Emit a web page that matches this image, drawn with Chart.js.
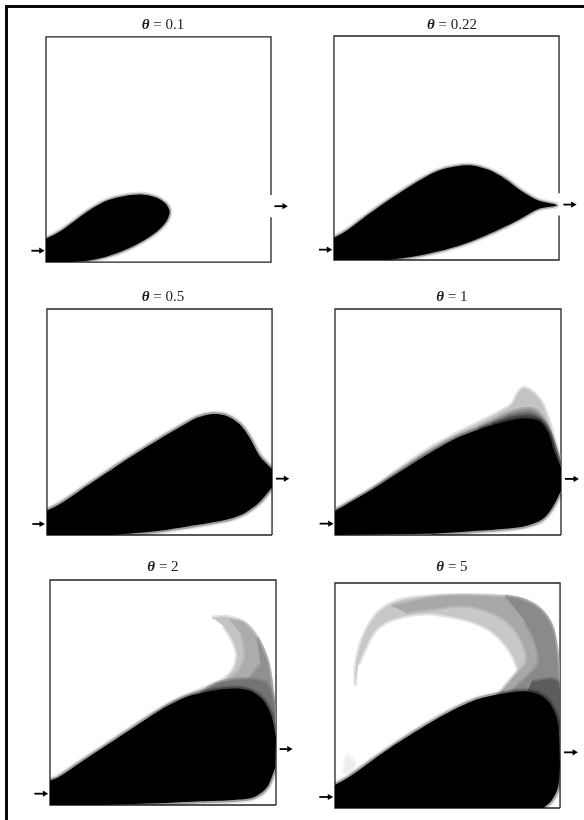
<!DOCTYPE html>
<html>
<head>
<meta charset="utf-8">
<script src="https://cdn.jsdelivr.net/npm/chart.js@4/dist/chart.umd.min.js"></script>
<style>
html,body{margin:0;padding:0;background:#fff;width:584px;height:820px;overflow:hidden}
#page{position:relative;width:584px;height:820px}
#frameTop{position:absolute;left:5px;top:5px;width:579px;height:3px;background:#0a0a0a;filter:blur(0.5px)}
#frameLeft{position:absolute;left:5px;top:5px;width:3px;height:815px;background:#0a0a0a;filter:blur(0.5px)}
canvas{position:absolute;filter:blur(0.75px)}
.ttl{position:absolute;transform:translateX(-50%);font:15px "Liberation Serif",serif;color:#222;white-space:nowrap;filter:blur(0.4px)}
</style>
</head>
<body>
<div id="page">
<div id="frameTop"></div>
<div id="frameLeft"></div>
</div>
<script>
// panel labels
var thetas=["0.1","0.22","0.5","1","2","5"];

// axis range of each panel (units are arbitrary)
var xMax=677;
var yMaxes=[677,671,678,677,676,675];

// black region per panel
var p1BlackX=[0,0,39,84,134,184,234,284,329,359,372,362,334,294,244,184,124,74];
var p1BlackY=[0,70,90,122,158,185,198,203,195,177,152,122,92,65,39,17,4,0];

var p2BlackX=[0,0,35,85,145,205,265,315,365,415,465,515,565,615,670,615,565,515,455,385,315,245,165];
var p2BlackY=[0,66,86,123,166,206,243,268,280,283,270,243,206,178,164,153,126,100,73,46,26,11,0];

var p3BlackX=[0,0,39,99,159,219,279,339,399,449,499,539,579,609,639,677,677,639,599,559,499,419,339,259,199];
var p3BlackY=[0,73,93,133,173,213,251,288,323,351,363,358,333,293,238,198,143,98,68,51,38,25,13,5,0];

var p4BlackX=[0,0,31,111,191,271,351,431,501,561,611,641,656,677,677,651,621,571,491,391,291];
var p4BlackY=[0,72,90,136,187,238,284,317,337,349,342,302,252,202,132,82,47,27,17,10,4];
var p4LightX=[0,31,111,191,271,351,431,491,531,546,564,586,616,641,661,677,677,400];
var p4LightY=[72,87,137,197,252,297,337,367,392,422,440,432,402,342,272,212,130,100];
var p4MidX=[431,491,541,591,621,649,677,400];
var p4MidY=[322,352,372,377,352,292,202,200];
var p4DarkX=[471,531,591,631,656,677,400];
var p4DarkY=[332,357,362,332,272,200,200];

var p5BlackX=[0,0,25,90,170,250,330,410,490,550,600,640,665,677,675,650,610,550,450,350,250,150];
var p5BlackY=[0,73,83,127,180,233,285,325,344,350,343,313,263,203,113,53,23,15,11,6,3,0];
var p5HookX=[485,530,580,620,650,665,675,675,450,300,350,410,470,520,550,560,545,520];
var p5HookY=[563,565,548,503,433,343,223,113,163,250,298,328,355,378,408,453,498,538];
var p5MidX=[540,580,620,650,665,675,675,500,470,530,570,585,575];
var p5MidY=[555,548,503,433,343,223,113,200,345,372,408,453,510];
var p5DarkX=[620,650,665,675,675,480,520,590,630];
var p5DarkY=[503,433,343,223,113,250,345,375,420];
var p5DeepX=[450,510,590,650,670,550];
var p5DeepY=[336,368,378,363,263,343];

var p6BlackX=[0,0,41,111,191,271,351,431,511,571,621,651,671,677,671,651,626];
var p6BlackY=[0,69,92,142,197,247,292,327,344,350,337,307,252,132,62,22,0];
var p6HookX=[61,63,84,119,161,221,321,471,561,616,651,666,674,677,471,251,321,401,471,521,551,541,511,461,391,291,211,151,116,92,70];
var p6HookY=[367,432,512,574,609,629,637,637,627,597,547,472,372,232,132,172,242,282,322,362,397,442,492,537,565,583,576,556,526,480,430];
var p6MidX=[171,321,471,561,616,651,666,674,677,471,531,576,566,531,471,391,291,211];
var p6MidY=[607,635,635,625,595,545,472,372,232,292,387,437,492,547,587,607,597,587];
var p6DarkX=[511,561,616,651,666,674,677,521,611,601,571];
var p6DarkY=[635,625,595,545,472,372,232,322,432,502,562];
var p6DeepX=[591,651,674,677,571];
var p6DeepY=[377,387,372,232,332];
var p6SmudgeX=[26,36,61,41];
var p6SmudgeY=[102,157,132,107];

// right border is open between these heights on the first two panels
var gapTops=[202,200,0,0,0,0];
var gapBottoms=[135,133,0,0,0,0];

// arrows: tail x, head x, height
var leftArrowX0=[-44,-45,-44,-46,-47,-47];
var leftArrowX1=[-15,-16,-17,-15,-16,-16];
var leftArrowY=[34,31,33,34,34,33];
var rightArrowX0=[687,690,689,689,688,689];
var rightArrowX1=[717,719,718,720,716,720];
var rightArrowY=[168,166,169,168,168,167];

// where each box sits on the page
var boxLeft=[45.5,333.5,47,335,50,335];
var boxTop=[36.5,35.5,308.5,308.5,579.5,582.5];
var boxWidth=[225,225.5,225.5,226,226,225.5];
var boxHeight=[225.5,224,226,226,225,225];
var titleX=[163,452,163,452,163,452];
var titleY=[16,16,288,288,558,558];
var pad=24;

function toPoints(xs,ys){
	var pts=[];
	for(var i=0;i<xs.length;i++){
		pts.push({x:xs[i],y:ys[i]});
		// repeat points on the box edge so the curve does not bulge out of the box
		if(xs[i]<=0 || xs[i]>=675){
			pts.push({x:xs[i],y:ys[i]});
		}
	}
	return pts;
}

function region(xs,ys,color,edge,edgeWidth){
	return {
		data:toPoints(xs,ys),
		showLine:true,
		fill:'shape',
		backgroundColor:color,
		borderColor:edge,
		borderWidth:edgeWidth,
		tension:0.3,
		pointRadius:0,
		clip:-pad
	};
}

// grey layer with an edge of its own colour, half see through
function grey(xs,ys,color){
	return region(xs,ys,color,color+'80',4);
}

// black shape with two faint outlines, the scan has no hard edge
function blackShape(xs,ys,width){
	return [
		region(xs,ys,'#00000000','rgba(0,0,0,0.10)',width+3),
		region(xs,ys,'#000','rgba(0,0,0,0.30)',width)
	];
}

function arrow(x0,x1,y){
	return {
		data:[{x:x0,y:y},{x:x1,y:y}],
		showLine:true,
		fill:false,
		borderColor:'#000',
		backgroundColor:'#000',
		borderWidth:1.8,
		pointStyle:'triangle',
		pointRotation:90,
		pointRadius:[0,3.6],
		pointBorderWidth:0,
		clip:false
	};
}

function box(i){
	var top=yMaxes[i];
	return {
		data:[{x:xMax,y:gapBottoms[i]},{x:xMax,y:0},{x:0,y:0},{x:0,y:top},{x:xMax,y:top},{x:xMax,y:gapTops[i]}],
		showLine:true,
		fill:false,
		borderColor:'#222',
		borderWidth:1.3,
		pointRadius:0,
		clip:false
	};
}

function makePanel(i,regions){
	var page=document.getElementById("page");
	var c=document.createElement("canvas");
	c.width=boxWidth[i]+2*pad;
	c.height=boxHeight[i]+2*pad;
	c.style.left=(boxLeft[i]-pad)+"px";
	c.style.top=(boxTop[i]-pad)+"px";
	page.appendChild(c);

	var t=document.createElement("div");
	t.className="ttl";
	t.style.left=titleX[i]+"px";
	t.style.top=titleY[i]+"px";
	t.innerHTML="<i><b>\u03b8</b></i> = "+thetas[i];
	page.appendChild(t);

	var sets=[box(i)].concat(regions).concat([
		arrow(leftArrowX0[i],leftArrowX1[i],leftArrowY[i]),
		arrow(rightArrowX0[i],rightArrowX1[i],rightArrowY[i])
	]);
	// earlier datasets are drawn on top in chart.js, so reverse
	sets.reverse();

	// axes run past the box so the arrows stay inside the chart area
	var xUnit=xMax/boxWidth[i];
	var yUnit=yMaxes[i]/boxHeight[i];
	return new Chart(c.getContext('2d'),{
		type:'scatter',
		data:{datasets:sets},
		options:{
			responsive:false,
			animation:false,
			layout:{autoPadding:false},
			plugins:{legend:{display:false},tooltip:{enabled:false},title:{display:false}},
			scales:{
				x:{type:'linear',min:-pad*xUnit,max:xMax+pad*xUnit,display:false},
				y:{type:'linear',min:-pad*yUnit,max:yMaxes[i]+pad*yUnit,display:false}
			}
		}
	});
}

makePanel(0,blackShape(p1BlackX,p1BlackY,3));
makePanel(1,blackShape(p2BlackX,p2BlackY,3));
makePanel(2,blackShape(p3BlackX,p3BlackY,4));
makePanel(3,[
	grey(p4LightX,p4LightY,'#c4c4c4'),
	grey(p4MidX,p4MidY,'#8c8c8c'),
	grey(p4DarkX,p4DarkY,'#555555')
].concat(blackShape(p4BlackX,p4BlackY,4)));
makePanel(4,[
	grey(p5HookX,p5HookY,'#c4c4c4'),
	grey(p5MidX,p5MidY,'#acacac'),
	grey(p5DarkX,p5DarkY,'#909090'),
	grey(p5DeepX,p5DeepY,'#747474')
].concat(blackShape(p5BlackX,p5BlackY,4)));
makePanel(5,[
	grey(p6SmudgeX,p6SmudgeY,'#eeeeee'),
	grey(p6HookX,p6HookY,'#c8c8c8'),
	grey(p6MidX,p6MidY,'#a8a8a8'),
	grey(p6DarkX,p6DarkY,'#8a8a8a'),
	grey(p6DeepX,p6DeepY,'#5c5c5c')
].concat(blackShape(p6BlackX,p6BlackY,4)));
</script>
</body>
</html>
